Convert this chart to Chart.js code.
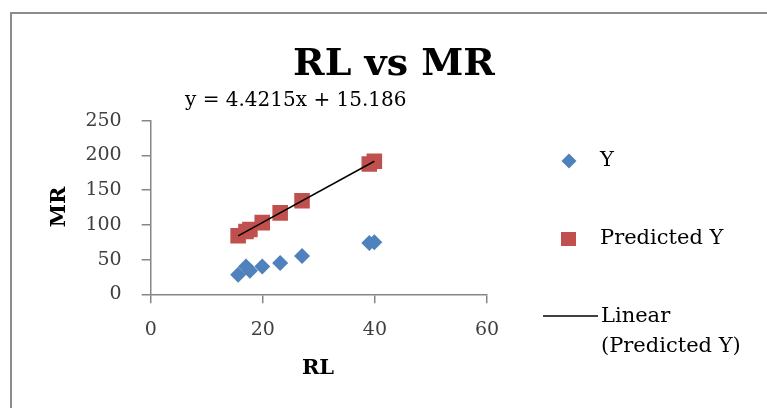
<!DOCTYPE html>
<html>
<head>
<meta charset="utf-8">
<script src="https://cdn.jsdelivr.net/npm/chart.js@4"></script>
<style>
  body { margin: 0; background: #fff; }
  #wrap { position: relative; width: 767px; height: 408px; overflow: hidden; }
  #frame { position: absolute; left: 10px; top: 12px; width: 800px; height: 450px; border: 2px solid #8c8c8c; box-sizing: border-box; }
  canvas { position: absolute; left: 0; top: 0; }
</style>
</head>
<body>
<div id="wrap">
  <div id="frame"></div>
  <canvas id="chartRlMr" width="767" height="408"></canvas>
</div>
<script>
// values
const rlValues = [15.6, 17.0, 17.7, 19.9, 23.1, 27.0, 39.0, 39.9];
const mrValues = [28, 40, 34, 40, 45, 55, 74, 75];
const predictedValues = [84.2, 90.3, 93.4, 103.2, 117.3, 134.6, 187.6, 191.6];
// trendline end points (Linear (Predicted Y))
const trendX = [15.6, 39.9];
const trendY = [84.2, 191.6];

const xTicks = [0, 20, 40, 60];
const yTicks = [0, 50, 100, 150, 200, 250];

const chartTitle = 'RL vs MR';
const equationText = 'y = 4.4215x + 15.186';
const xTitle = 'RL';
const yTitle = 'MR';

const toPoints = (xs, ys) => xs.map((x, i) => ({ x: x, y: ys[i] }));

const blue = '#4F81BD';
const red = '#C0504D';
const axisGray = '#868686';

// title, equation, axis titles and the legend are drawn by hand
const decorations = {
    id: 'decorations',
    afterDraw(chart) {
        const ctx = chart.ctx;
        ctx.save();
        ctx.fillStyle = '#000';

        ctx.font = 'bold 38px "DejaVu Serif"';
        ctx.textAlign = 'center';
        ctx.textBaseline = 'alphabetic';
        ctx.fillText(chartTitle, 394, 75);

        ctx.font = '20px "DejaVu Serif"';
        ctx.textAlign = 'left';
        ctx.fillText(equationText, 185, 106);

        ctx.font = 'bold 21px "DejaVu Serif"';
        ctx.textAlign = 'center';
        ctx.textBaseline = 'middle';
        ctx.fillText(xTitle, 318, 369);
        ctx.save();
        ctx.translate(60, 207);
        ctx.rotate(-Math.PI / 2);
        ctx.fillText(yTitle, 0, 0);
        ctx.restore();

        // legend
        ctx.fillStyle = blue;
        ctx.beginPath();
        ctx.moveTo(569, 153.5);
        ctx.lineTo(576.5, 161);
        ctx.lineTo(569, 168.5);
        ctx.lineTo(561.5, 161);
        ctx.closePath();
        ctx.fill();

        ctx.fillStyle = red;
        ctx.fillRect(561, 232, 15, 14);

        ctx.strokeStyle = '#000';
        ctx.lineWidth = 1.5;
        ctx.beginPath();
        ctx.moveTo(543, 316);
        ctx.lineTo(598, 316);
        ctx.stroke();

        ctx.fillStyle = '#000';
        ctx.font = '21px "DejaVu Serif"';
        ctx.textAlign = 'left';
        ctx.textBaseline = 'middle';
        ctx.fillText('Y', 600, 161);
        ctx.fillText('Predicted Y', 600, 239);
        ctx.fillText('Linear', 601, 317);
        ctx.fillText('(Predicted Y)', 601, 347);
        ctx.restore();
    }
};

const data = {
    datasets: [
        {
            type: 'line',
            label: 'Linear (Predicted Y)',
            data: toPoints(trendX, trendY),
            borderColor: '#000',
            borderWidth: 1.5,
            pointRadius: 0,
            fill: false,
            order: 0
        },
        {
            type: 'scatter',
            label: 'Predicted Y',
            data: toPoints(rlValues, predictedValues),
            pointStyle: 'rect',
            pointRadius: 11,
            backgroundColor: red,
            borderColor: red,
            borderWidth: 0,
            order: 1
        },
        {
            type: 'scatter',
            label: 'Y',
            data: toPoints(rlValues, mrValues),
            pointStyle: 'rectRot',
            pointRadius: 8,
            backgroundColor: blue,
            borderColor: blue,
            borderWidth: 0,
            order: 2
        }
    ]
};

const config = {
    type: 'scatter',
    data: data,
    options: {
        responsive: false,
        animation: false,
        events: [],
        layout: {
            padding: { left: 0, top: 120.7, right: 280, bottom: 0 }
        },
        plugins: {
            legend: { display: false },
            title: { display: false },
            tooltip: { enabled: false }
        },
        scales: {
            x: {
                type: 'linear',
                min: 0,
                max: 60,
                afterFit: (scale) => { scale.height = 408 - 294.3; },
                afterBuildTicks: (scale) => { scale.ticks = xTicks.map(v => ({ value: v })); },
                border: { color: axisGray, width: 1.5 },
                grid: { drawOnChartArea: false, drawTicks: true, tickLength: 9, color: axisGray, lineWidth: 1.5 },
                ticks: {
                    padding: 15,
                    color: '#404040',
                    font: { family: 'DejaVu Serif', size: 19 }
                }
            },
            y: {
                type: 'linear',
                min: 0,
                max: 250,
                afterFit: (scale) => { scale.width = 150.7; },
                afterBuildTicks: (scale) => { scale.ticks = yTicks.map(v => ({ value: v })); },
                border: { color: axisGray, width: 1.5 },
                grid: { drawOnChartArea: false, drawTicks: true, tickLength: 9, color: axisGray, lineWidth: 1.5 },
                ticks: {
                    padding: 20,
                    color: '#404040',
                    font: { family: 'DejaVu Serif', size: 19 }
                }
            }
        }
    },
    plugins: [decorations]
};

const chartRlMr = new Chart(document.getElementById('chartRlMr'), config);
</script>
</body>
</html>
